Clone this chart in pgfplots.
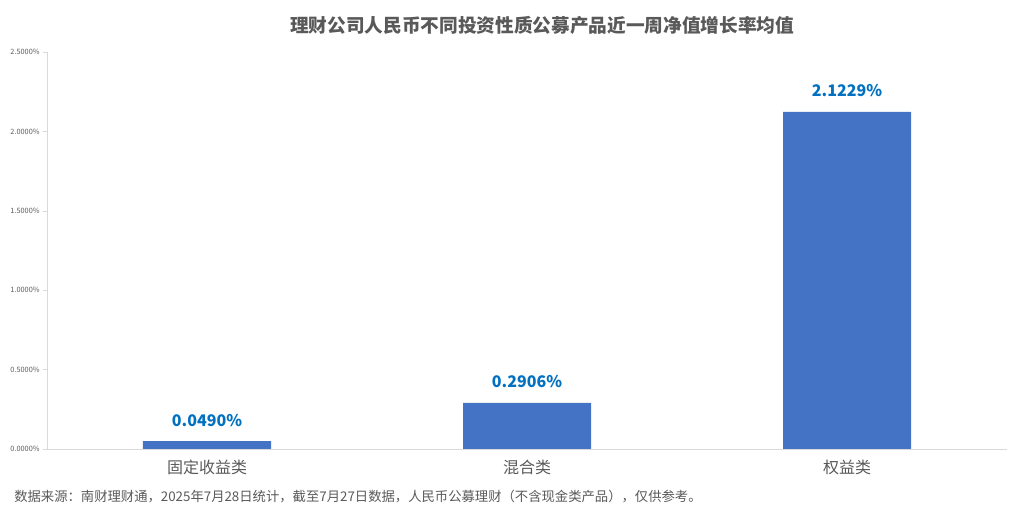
\documentclass[border=0pt]{standalone}
\usepackage{fontspec}
\setmainfont{Noto Sans CJK SC}
\usepackage{pgfplots}
\pgfplotsset{compat=1.18}

\definecolor{barblue}{HTML}{4472C4}
\definecolor{lblblue}{HTML}{0070C0}
\definecolor{txtgray}{HTML}{595959}
\definecolor{axgray}{HTML}{D9D9D9}

\begin{document}
\begin{tikzpicture}
\useasboundingbox (0pt,0pt) rectangle (766.5pt,390.75pt);
\begin{axis}[
  at={(35.25pt,54pt)}, anchor=south west,
  scale only axis,
  width=720pt, height=297.75pt,
  ymin=0, ymax=2.5,
  xmin=-0.5, xmax=2.5,
  axis x line=bottom, axis y line=left,
  axis line style={axgray, -},
  xtick=data,
  xticklabels={固定收益类, 混合类, 权益类},
  x tick label style={font=\fontsize{12}{14}\selectfont, text=txtgray, yshift=-2pt},
  major x tick style={draw=none},
  ytick={0,0.5,...,2.5},
  yticklabel={\pgfmathprintnumber[fixed,fixed zerofill,precision=4]{\tick}\%},
  y tick label style={font=\fontsize{5.5}{6}\selectfont, text=txtgray, xshift=1pt},
  /pgf/number format/assume math mode=true,
  tick style={axgray},
  major tick length=3pt,
  tick align=outside,
  ybar, bar width=96pt,
  nodes near coords={\pgfmathprintnumber[fixed,fixed zerofill,precision=4]{\pgfplotspointmeta}\%},
  every node near coord/.append style={font=\bfseries\fontsize{12}{14}\selectfont, text=lblblue, anchor=south, inner sep=0pt, yshift=11pt},
  clip=false,
]
\addplot[fill=barblue, draw=none] coordinates {(0,0.0490) (1,0.2906) (2,2.1229)};
\end{axis}
\node[font=\bfseries\fontsize{14}{16}\selectfont, text=txtgray] at (406.5pt,372pt) {理财公司人民币不同投资性质公募产品近一周净值增长率均值};
\node[font=\fontsize{10}{12}\selectfont, text=txtgray, anchor=west, inner sep=0pt] at (10.5pt,18pt) {数据来源：南财理财通，2025年7月28日统计，截至7月27日数据，人民币公募理财（不含现金类产品），仅供参考。};
\end{tikzpicture}
\end{document}
